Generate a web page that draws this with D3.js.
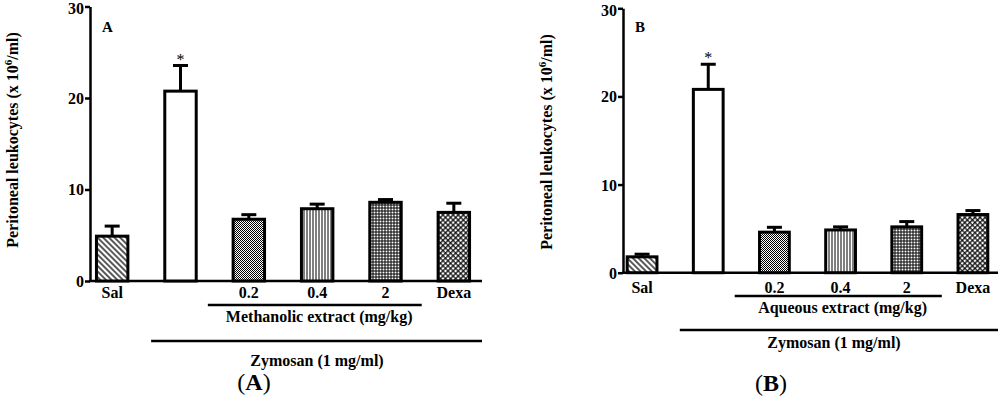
<!DOCTYPE html>
<html>
<head>
<meta charset="utf-8">
<script src="https://cdnjs.cloudflare.com/ajax/libs/d3/7.8.5/d3.min.js"></script>
<style>
  body { margin: 0; background: #fff; }
</style>
</head>
<body>
<svg id="chart"></svg>
<script>
// groups along the x axis (second group is zymosan alone, no label)
var categories = ["Sal", "Zym", "0.2", "0.4", "2", "Dexa"];
var tickLabels = ["Sal", "", "0.2", "0.4", "2", "Dexa"];
var yTicks = [0, 10, 20, 30];

// panel A: methanolic extract
var methanolMeans = [4.9, 20.75, 6.75, 7.9, 8.6, 7.5];
var methanolErrors = [1.1, 2.8, 0.5, 0.5, 0.3, 1.0];

// panel B: aqueous extract
var aqueousMeans = [1.8, 20.8, 4.6, 4.85, 5.2, 6.6];
var aqueousErrors = [0.3, 2.85, 0.55, 0.35, 0.6, 0.45];

var fills = ["url(#diag)", "#fff", "url(#dots)", "url(#vert)", "url(#grid)", "url(#cross)"];
var serif = "'Liberation Serif', 'Times New Roman', Times, serif";

var svg = d3.select("#chart")
    .attr("width", 1000)
    .attr("height", 398);

// hatch patterns
var defs = svg.append("defs");

var p = defs.append("pattern").attr("id", "diag")
    .attr("patternUnits", "userSpaceOnUse").attr("width", 4).attr("height", 4)
    .attr("patternTransform", "rotate(-45)");
p.append("rect").attr("width", 4).attr("height", 4).attr("fill", "#fff");
p.append("line").attr("x1", 1).attr("y1", 0).attr("x2", 1).attr("y2", 4)
    .attr("stroke", "#000").attr("stroke-width", 1.3);

p = defs.append("pattern").attr("id", "dots")
    .attr("patternUnits", "userSpaceOnUse").attr("width", 2).attr("height", 2);
p.append("rect").attr("width", 2).attr("height", 2).attr("fill", "#fff");
p.append("rect").attr("width", 1).attr("height", 1).attr("fill", "#000");
p.append("rect").attr("x", 1).attr("y", 1).attr("width", 1).attr("height", 1).attr("fill", "#000");

p = defs.append("pattern").attr("id", "vert")
    .attr("patternUnits", "userSpaceOnUse").attr("width", 3).attr("height", 3);
p.append("rect").attr("width", 3).attr("height", 3).attr("fill", "#fff");
p.append("line").attr("x1", 1).attr("y1", 0).attr("x2", 1).attr("y2", 3)
    .attr("stroke", "#000").attr("stroke-width", 1);

p = defs.append("pattern").attr("id", "grid")
    .attr("patternUnits", "userSpaceOnUse").attr("width", 3).attr("height", 3);
p.append("rect").attr("width", 3).attr("height", 3).attr("fill", "#fff");
p.append("path").attr("d", "M1,0V3M0,1H3")
    .attr("stroke", "#000").attr("stroke-width", 1);

p = defs.append("pattern").attr("id", "cross")
    .attr("patternUnits", "userSpaceOnUse").attr("width", 3.6).attr("height", 3.6)
    .attr("patternTransform", "rotate(45)");
p.append("rect").attr("width", 3.6).attr("height", 3.6).attr("fill", "#fff");
p.append("path").attr("d", "M0.8,0V3.6M0,0.8H3.6")
    .attr("stroke", "#000").attr("stroke-width", 1.2);

// helper for the bold serif labels
function label(sel, size) {
    return sel.attr("fill", "#000")
        .style("font-family", serif)
        .style("font-weight", "bold")
        .style("font-size", size + "px");
}

function drawPanel(opt) {
    var g = svg.append("g");

    var x = d3.scaleBand()
        .domain(categories)
        .range(opt.xRange)
        .paddingInner(opt.pad)
        .paddingOuter(opt.pad / 2);

    var y = d3.scaleLinear()
        .domain([0, 30])
        .range(opt.yRange);

    var step = x.step();
    var cx = function(c) { return x(c) + x.bandwidth() / 2; };

    // y axis
    var yAxis = g.append("g")
        .attr("transform", "translate(" + opt.axisX + ",0)")
        .call(d3.axisLeft(y).tickValues(yTicks).tickSize(5).tickSizeOuter(0).tickPadding(1));
    yAxis.selectAll("path, line").attr("stroke", "#000").attr("stroke-width", 2.5);
    label(yAxis.selectAll("text"), 16);
    yAxis.selectAll("text").attr("dy", function(d) { return d === 30 ? "0.45em" : "0.34em"; });

    // bottom line
    g.append("line")
        .attr("x1", opt.axisX - 1).attr("x2", opt.xEnd)
        .attr("y1", y(0)).attr("y2", y(0))
        .attr("stroke", "#000").attr("stroke-width", 2.5);

    // error bars (upper only)
    var bars = g.selectAll(".bar")
        .data(categories)
        .enter().append("g");

    bars.append("line")
        .attr("x1", function(d) { return cx(d); })
        .attr("x2", function(d) { return cx(d); })
        .attr("y1", function(d, i) { return y(opt.means[i]); })
        .attr("y2", function(d, i) { return y(opt.means[i] + opt.errors[i]); })
        .attr("stroke", "#000").attr("stroke-width", 3);

    bars.append("line")
        .attr("x1", function(d) { return cx(d) - 7.5; })
        .attr("x2", function(d) { return cx(d) + 7.5; })
        .attr("y1", function(d, i) { return y(opt.means[i] + opt.errors[i]); })
        .attr("y2", function(d, i) { return y(opt.means[i] + opt.errors[i]); })
        .attr("stroke", "#000").attr("stroke-width", 3);

    bars.append("rect")
        .attr("x", function(d) { return x(d); })
        .attr("y", function(d, i) { return y(opt.means[i]); })
        .attr("width", x.bandwidth())
        .attr("height", function(d, i) { return y(0) - y(opt.means[i]); })
        .attr("fill", function(d, i) { return fills[i]; })
        .attr("stroke", "#000").attr("stroke-width", 3);

    // asterisk over zymosan
    label(g.append("text"), 16)
        .attr("x", cx("Zym"))
        .attr("y", y(opt.means[1] + opt.errors[1]) - 1)
        .attr("text-anchor", "middle")
        .style("font-weight", "normal")
        .text("*");

    // category labels
    label(g.selectAll(".lab")
        .data(categories)
        .enter().append("text"), 16)
        .attr("x", function(d) { return cx(d); })
        .attr("y", opt.labelY)
        .attr("text-anchor", "middle")
        .text(function(d, i) { return tickLabels[i]; });

    // extract bracket
    g.append("line")
        .attr("x1", cx("0.2") - 0.6 * step).attr("x2", cx("2") + 0.53 * step)
        .attr("y1", opt.line1Y).attr("y2", opt.line1Y)
        .attr("stroke", "#000").attr("stroke-width", 2.5);
    label(g.append("text"), 16)
        .attr("x", (cx("0.2") + cx("2")) / 2 + 2)
        .attr("y", opt.extractY)
        .attr("text-anchor", "middle")
        .text(opt.extractLabel);

    // zymosan bracket
    g.append("line")
        .attr("x1", cx("Zym") - 0.43 * step).attr("x2", opt.xEnd)
        .attr("y1", opt.line2Y).attr("y2", opt.line2Y)
        .attr("stroke", "#000").attr("stroke-width", 2.5);
    label(g.append("text"), 16)
        .attr("x", opt.zymX)
        .attr("y", opt.zymY)
        .attr("text-anchor", "middle")
        .text("Zymosan (1 mg/ml)");

    // panel letter inside plot
    label(g.append("text"), 15)
        .attr("x", opt.axisX + 12)
        .attr("y", 32)
        .text(opt.letter);

    // y axis title
    var yt = label(g.append("text"), 16)
        .attr("transform", "translate(" + opt.titleX + "," + opt.titleY + ") rotate(-90)")
        .attr("text-anchor", "middle");
    yt.append("tspan").text("Peritoneal leukocytes (x 10");
    yt.append("tspan").attr("dy", -6).style("font-size", "11px").text("6");
    yt.append("tspan").attr("dy", 6).text("/ml)");

    // caption below
    var cap = label(g.append("text"), 24)
        .attr("x", opt.capX)
        .attr("y", opt.capY)
        .attr("text-anchor", "middle");
    cap.append("tspan").style("font-weight", "normal").text("(");
    cap.append("tspan").text(opt.letter);
    cap.append("tspan").style("font-weight", "normal").text(")");
}

drawPanel({
    means: methanolMeans, errors: methanolErrors,
    xRange: [78, 488], pad: 0.54, yRange: [281, 6.5],
    axisX: 90, xEnd: 482,
    labelY: 298, line1Y: 305, extractY: 322, line2Y: 341, zymY: 366, zymX: 317,
    extractLabel: "Methanolic extract (mg/kg)",
    letter: "A", titleX: 18, titleY: 140, capX: 254, capY: 390
});

drawPanel({
    means: aqueousMeans, errors: aqueousErrors,
    xRange: [609, 1006], pad: 0.55, yRange: [272.7, 8.3],
    axisX: 623, xEnd: 998,
    labelY: 293, line1Y: 296, extractY: 313, line2Y: 330, zymY: 348, zymX: 834,
    extractLabel: "Aqueous extract (mg/kg)",
    letter: "B", titleX: 552, titleY: 142, capX: 771, capY: 391
});
</script>
</body>
</html>
